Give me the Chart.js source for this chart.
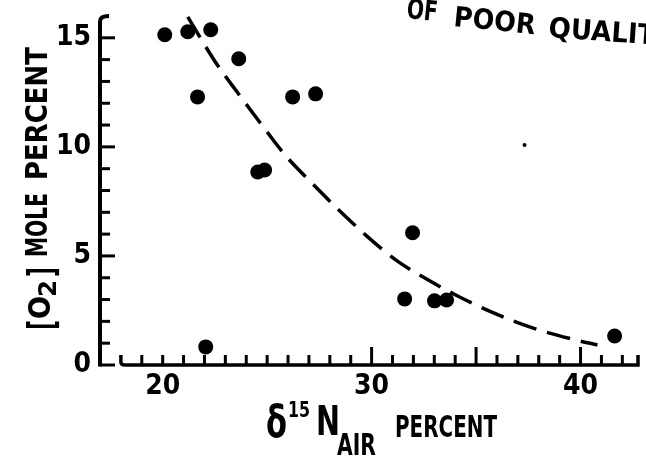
<!DOCTYPE html>
<html><head><meta charset="utf-8">
<script src="https://cdn.jsdelivr.net/npm/chart.js@4.4.1/dist/chart.umd.min.js"></script>
<style>html,body{margin:0;padding:0;background:#fff;}canvas{display:block;}</style>
</head><body>
<canvas id="c" width="646" height="461"></canvas>
<script>
// ---- data ----
const d15N   = [20.10, 21.20, 22.30, 23.64, 21.67, 26.22, 27.32, 24.55, 24.88, 22.06, 31.96, 31.58, 33.01, 33.59, 41.63];
const o2Mole = [15.14, 15.28, 15.37, 14.04, 12.29, 12.29, 12.43, 8.85, 8.94, 0.83, 6.06, 3.03, 2.94, 2.98, 1.33];
const fitX = [21.20, 22.49, 23.59, 24.74, 25.89, 27.13, 28.37, 29.76, 31.15, 32.63, 34.21, 35.84, 37.70, 39.76, 40.81];
const fitY = [15.96, 13.94, 12.48, 11.01, 9.59, 8.35, 7.16, 5.92, 4.82, 3.94, 3.12, 2.39, 1.70, 1.15, 0.92];
const speckX = [37.32];
const speckY = [10.09];
const xTickValues = [20, 30, 40];
const yTickValues = [0, 5, 10, 15];
const yTitleParts = ['[', 'O', '2', ']', 'MOLE', 'PERCENT'];
const xTitleParts = ['δ', '15', 'N', 'AIR', 'PERCENT'];
const stampParts = ['OF', 'POOR', 'QUALITY'];

const NARROW = "'Liberation Sans Narrow', 'DejaVu Sans Condensed', sans-serif";
const HEAVY = "'DejaVu Sans', sans-serif";

function fitText(ctx, text, x, y, width, font, angle) {
  ctx.font = font;
  const w = ctx.measureText(text).width;
  ctx.save();
  ctx.translate(x, y);
  if (angle) ctx.rotate(angle);
  ctx.scale(width ? width / w : 1, 1);
  ctx.fillText(text, 0, 0);
  ctx.restore();
}

const handAxes = {
  id: 'handAxes',
  beforeDatasetsDraw(chart) {
    const {ctx, scales: {x, y}} = chart;
    ctx.save();
    ctx.strokeStyle = '#000';
    ctx.lineCap = 'butt';
    const ax = x.getPixelForValue(x.min);
    const by = y.getPixelForValue(0);
    // y axis with hook at the top
    ctx.lineWidth = 4;
    ctx.beginPath();
    ctx.moveTo(ax, by + 1.5);
    ctx.lineTo(ax, y.getPixelForValue(15.75));
    ctx.quadraticCurveTo(ax, y.getPixelForValue(16), ax + 9, y.getPixelForValue(16));
    ctx.stroke();
    ctx.lineWidth = 3;
    for (let v = 0; v <= 15; v++) {
      const py = y.getPixelForValue(v);
      const len = v % 5 === 0 ? 15 : 10;
      ctx.beginPath(); ctx.moveTo(ax, py); ctx.lineTo(ax + len, py); ctx.stroke();
    }
    // x axis
    const x0 = x.getPixelForValue(18), x1 = x.getPixelForValue(x.max);
    ctx.lineWidth = 3.5;
    ctx.beginPath();
    ctx.moveTo(x0, by - 10);
    ctx.lineTo(x0, by - 3);
    ctx.quadraticCurveTo(x0, by, x0 + 4, by);
    ctx.lineTo(x1, by);
    ctx.lineTo(x1, by - 10);
    ctx.stroke();
    ctx.lineWidth = 3;
    for (let v = 19; v <= 42; v++) {
      const px = x.getPixelForValue(v);
      const len = (v % 5 === 0 && v >= 30) ? 18 : 10;
      ctx.beginPath(); ctx.moveTo(px, by); ctx.lineTo(px, by - len); ctx.stroke();
    }
    ctx.restore();
  },
  afterDraw(chart) {
    const {ctx} = chart;
    ctx.save();
    ctx.fillStyle = '#000';
    ctx.textBaseline = 'alphabetic';
    ctx.textAlign = 'left';
    // y title, rotated
    ctx.save();
    ctx.translate(47, 330);
    ctx.rotate(-Math.PI / 2);
    fitText(ctx, yTitleParts[0], 0, 7, 10, 'bold 38px ' + NARROW);
    fitText(ctx, yTitleParts[1], 11, 3, 23, 'bold 31px ' + NARROW);
    fitText(ctx, yTitleParts[2], 33, 9, 17, 'bold 25px ' + NARROW);
    fitText(ctx, yTitleParts[3], 53, 7, 10, 'bold 38px ' + NARROW);
    fitText(ctx, yTitleParts[4], 73, 0, 64, 'bold 30px ' + NARROW);
    fitText(ctx, yTitleParts[5], 150, 0, 133, 'bold 30px ' + NARROW);
    ctx.restore();
    // x title
    fitText(ctx, xTitleParts[0], 266, 437, 21, 'bold 44px ' + NARROW);
    fitText(ctx, xTitleParts[1], 288, 417, 22, 'bold 21px ' + NARROW);
    fitText(ctx, xTitleParts[2], 316, 435, 24, 'bold 41px ' + NARROW);
    fitText(ctx, xTitleParts[3], 337, 455, 39, 'bold 30px ' + NARROW);
    fitText(ctx, xTitleParts[4], 395, 437, 102, 'bold 30px ' + NARROW);
    // stamp, tilted
    fitText(ctx, stampParts[0], 406, 18, 31, 'bold 28px ' + HEAVY, 0.1);
    fitText(ctx, stampParts[1], 453, 26, 82, 'bold 28px ' + HEAVY, 0.1);
    fitText(ctx, stampParts[2], 548, 37, 126, 'bold 28px ' + HEAVY, 0.07);
    ctx.restore();
  }
};

new Chart(document.getElementById('c'), {
  type: 'scatter',
  data: {
    datasets: [
      {
        label: 'fit',
        type: 'line',
        data: fitX.map((v, i) => ({x: v, y: fitY[i]})),
        borderColor: '#000',
        borderWidth: 3.5,
        borderDash: [24, 11],
        pointRadius: 0,
        fill: false,
        cubicInterpolationMode: 'monotone',
        clip: false
      },
      {
        label: 'samples',
        data: d15N.map((v, i) => ({x: v, y: o2Mole[i]})),
        backgroundColor: '#000',
        borderWidth: 0,
        pointRadius: 7.5,
        clip: false
      },
      {
        label: 'specks',
        data: speckX.map((v, i) => ({x: v, y: speckY[i]})),
        backgroundColor: '#000',
        borderWidth: 0,
        pointRadius: 2,
        clip: false
      }
    ]
  },
  options: {
    responsive: false,
    devicePixelRatio: 1,
    animation: false,
    events: [],
    layout: {padding: {left: 0, top: 16, right: 8, bottom: 0}},
    plugins: {legend: {display: false}, tooltip: {enabled: false}, title: {display: false}},
    scales: {
      x: {
        type: 'linear', min: 17, max: 42.75,
        grid: {display: false, drawTicks: false},
        border: {display: false},
        afterBuildTicks: s => { s.ticks = xTickValues.map(v => ({value: v})); },
        afterFit: s => { s.height = 96; s.paddingLeft = 0; s.paddingRight = 0; },
        ticks: {color: '#000', padding: 5, maxRotation: 0, font: {family: NARROW, size: 28, weight: 'bold'}}
      },
      y: {
        type: 'linear', min: 0, max: 16,
        grid: {display: false, drawTicks: false},
        border: {display: false},
        afterBuildTicks: s => { s.ticks = yTickValues.map(v => ({value: v})); },
        afterFit: s => { s.width = 100; s.paddingTop = 0; s.paddingBottom = 0; },
        ticks: {color: '#000', padding: 9, font: {family: NARROW, size: 28, weight: 'bold'}}
      }
    }
  },
  plugins: [handAxes]
});
</script>
</body></html>
